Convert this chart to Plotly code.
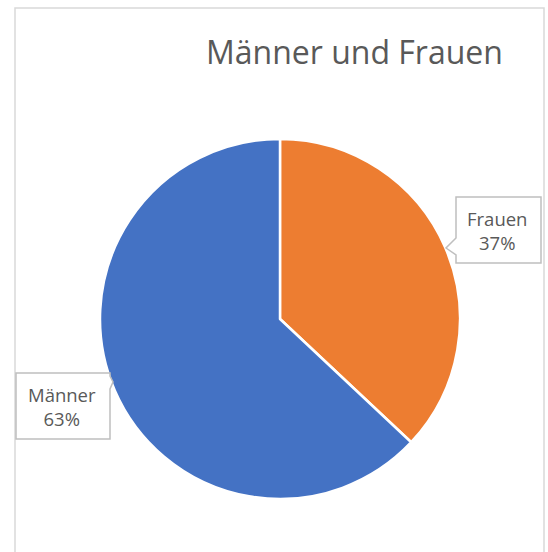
import plotly.graph_objects as go

# Data
categories = ["Frauen", "Männer"]
values = [37, 63]
colors = ["#ED7D31", "#4472C4"]
title_text = "Männer und Frauen"

W, H = 548, 552

def px(x):
    return x / W

def py(y):
    return 1 - y / H

fig = go.Figure()
fig.add_trace(go.Pie(
    labels=categories,
    values=values,
    sort=False,
    direction="clockwise",
    rotation=0,
    marker=dict(colors=colors, line=dict(color="white", width=2.5)),
    textinfo="none",
    hoverinfo="label+percent",
    showlegend=False,
    domain=dict(x=[px(100), px(460)], y=[py(499), py(139)]),
))

def path_from(points):
    s = "M " + " L ".join(f"{px(x)},{py(y)}" for x, y in points) + " Z"
    return s

box_style = dict(type="path", xref="paper", yref="paper",
                 line=dict(color="#BFBFBF", width=1.5), fillcolor="white", layer="above")

# Frauen callout (notch on left side)
frauen_box = [(456, 197), (541, 197), (541, 263), (456, 263), (456, 255), (446, 248), (456, 238)]
# Männer callout (notch on right side)
maenner_box = [(16, 373), (110, 373), (110, 376), (113, 382), (110, 389), (110, 439), (16, 439)]

shapes = [
    dict(type="rect", xref="paper", yref="paper", x0=px(15), x1=px(544), y0=py(8), y1=-0.05,
         line=dict(color="#D9D9D9", width=1.5), fillcolor="rgba(0,0,0,0)", layer="below"),
    dict(box_style, path=path_from(frauen_box)),
    dict(box_style, path=path_from(maenner_box)),
]

total = sum(values)
pct = [round(v / total * 100) for v in values]

annotations = [
    dict(text=title_text, x=px(354), y=py(52), xref="paper", yref="paper",
         showarrow=False, xanchor="center", yanchor="middle",
         font=dict(family="Open Sans", size=32, color="#595959")),
    dict(text=f"{categories[0]}<br>{pct[0]}%", x=px(497), y=py(230), xref="paper", yref="paper",
         showarrow=False, xanchor="center", yanchor="middle", align="center",
         font=dict(family="Open Sans", size=18.5, color="#595959")),
    dict(text=f"{categories[1]}<br>{pct[1]}%", x=px(62), y=py(406), xref="paper", yref="paper",
         showarrow=False, xanchor="center", yanchor="middle", align="center",
         font=dict(family="Open Sans", size=18.5, color="#595959")),
]

fig.update_layout(
    width=W, height=H,
    margin=dict(l=0, r=0, t=0, b=0),
    paper_bgcolor="white",
    plot_bgcolor="white",
    shapes=shapes,
    annotations=annotations,
)

fig.write_html("out.html", config={"displayModeBar": False},
               post_script="document.body.style.margin='0';document.body.style.overflow='hidden';")
